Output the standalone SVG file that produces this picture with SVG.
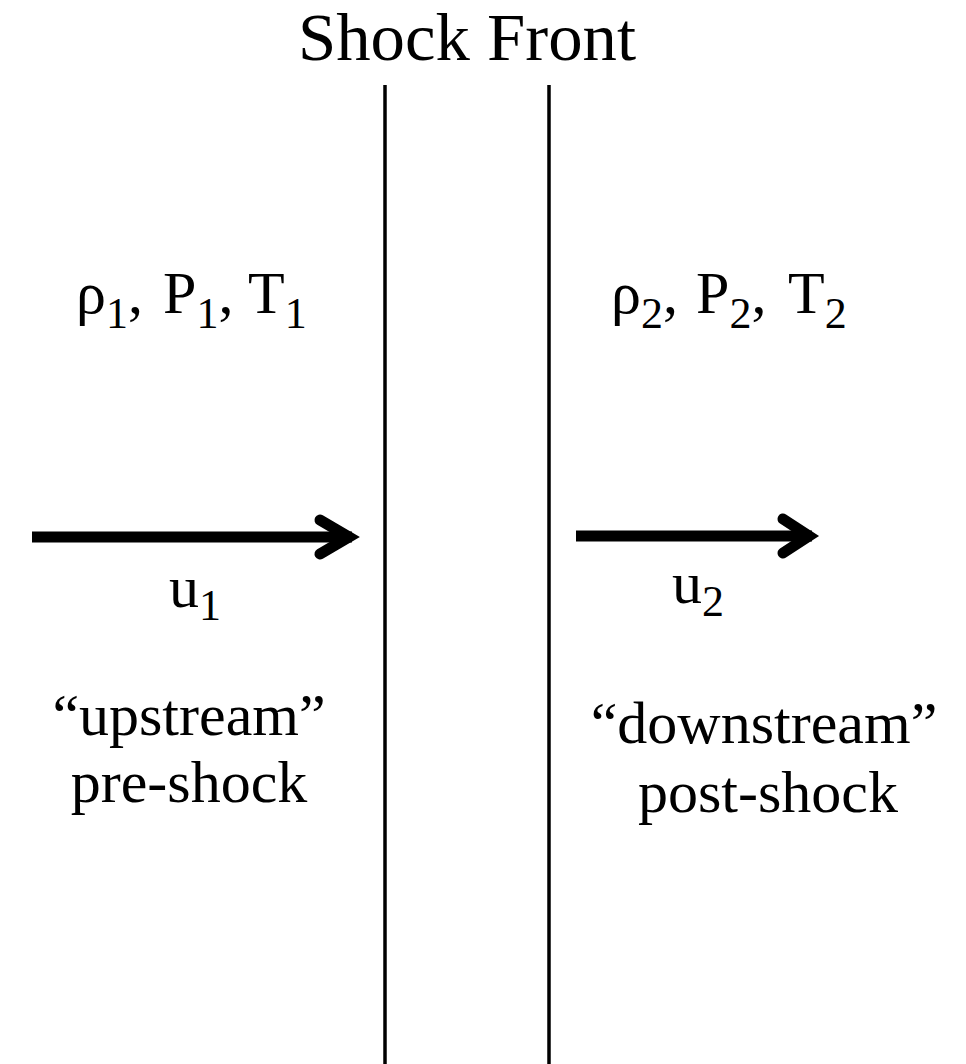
<svg xmlns="http://www.w3.org/2000/svg" width="966" height="1064" viewBox="0 0 966 1064">
<style>
text{font-family:"Liberation Serif","Times New Roman",serif;fill:#000}
.t{font-size:60px}
.sub{font-size:44px}
.line{stroke:#000;stroke-width:3.5;fill:none}
.arr{stroke:#000;stroke-width:11;fill:none}
.head{stroke:#000;stroke-width:11;fill:none;stroke-linecap:round;stroke-linejoin:miter;stroke-miterlimit:6}
</style>
<rect width="966" height="1064" fill="#fff"/>
<g id="title">
<text x="467" y="60" font-size="67" text-anchor="middle" textLength="338" lengthAdjust="spacingAndGlyphs">Shock Front</text>
</g>
<g id="shock-front">
<line class="line" x1="385" y1="85" x2="385" y2="1064"/>
<line class="line" x1="549" y1="85" x2="549" y2="1064"/>
</g>
<g id="upstream-state">
<text class="t" y="313"><tspan x="76">ρ</tspan><tspan class="sub" dy="15">1</tspan><tspan dy="-15">,</tspan><tspan x="163">P</tspan><tspan class="sub" dy="15">1</tspan><tspan dy="-15">,</tspan><tspan x="248">T</tspan><tspan class="sub" dy="15">1</tspan></text>
</g>
<g id="downstream-state">
<text class="t" y="313"><tspan x="611">ρ</tspan><tspan class="sub" dy="15">2</tspan><tspan dy="-15">,</tspan><tspan x="696">P</tspan><tspan class="sub" dy="15">2</tspan><tspan dy="-15">,</tspan><tspan x="788">T</tspan><tspan class="sub" dy="15">2</tspan></text>
</g>
<g id="connectors">
<g id="arrow-u1">
<line class="arr" x1="32" y1="537" x2="352" y2="537"/>
<polyline class="head" points="320,520 349,537 320,554"/>
</g>
<g id="arrow-u2">
<line class="arr" x1="576" y1="536" x2="812" y2="536"/>
<polyline class="head" points="783,519 809,536 783,553"/>
</g>
</g>
<g id="label-u1">
<text class="t" y="607"><tspan x="169">u</tspan><tspan class="sub" dy="13">1</tspan></text>
</g>
<g id="label-u2">
<text class="t" y="603"><tspan x="672">u</tspan><tspan class="sub" dy="13">2</tspan></text>
</g>
<g id="upstream-label">
<text class="t" x="189" y="735" text-anchor="middle">“upstream”</text>
<text class="t" x="189" y="802" text-anchor="middle">pre-shock</text>
</g>
<g id="downstream-label">
<text class="t" x="764" y="743" text-anchor="middle">“downstream”</text>
<text class="t" x="768" y="812" text-anchor="middle">post-shock</text>
</g>
</svg>
